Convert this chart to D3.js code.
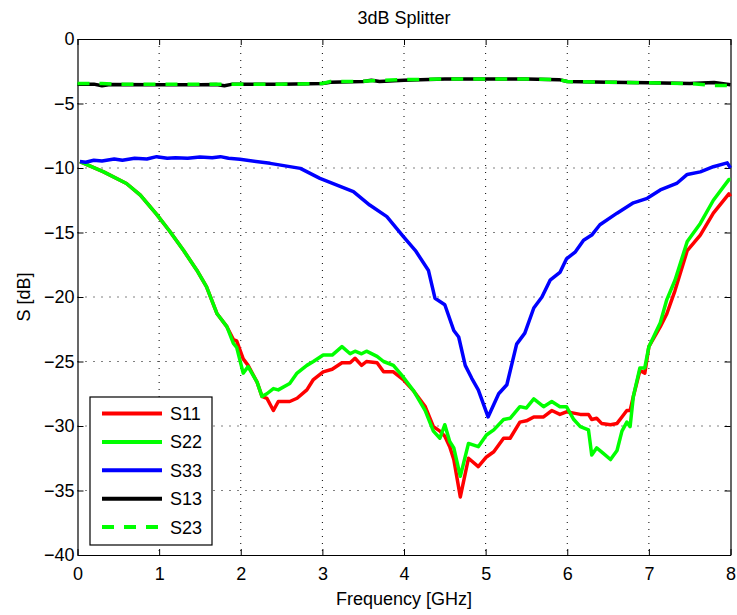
<!DOCTYPE html>
<html>
<head>
<meta charset="utf-8">
<script src="https://cdn.jsdelivr.net/npm/d3@7"></script>
<style>
  body { margin: 0; background: #fff; }
  svg { font-family: "Liberation Sans", Arial, Helvetica, sans-serif; }
</style>
</head>
<body>
<script>
// S-parameter traces (frequency in GHz, value in dB)
const freqS11 = [0.03, 0.32, 0.6, 0.77, 0.97, 1.13, 1.3, 1.46, 1.58, 1.71, 1.83, 1.91, 1.95, 2.03, 2.09, 2.2, 2.26, 2.32, 2.4, 2.46, 2.6, 2.69, 2.81, 2.89, 3.01, 3.12, 3.24, 3.34, 3.4, 3.48, 3.54, 3.67, 3.75, 3.87, 3.99, 4.12, 4.26, 4.36, 4.44, 4.5, 4.56, 4.61, 4.69, 4.79, 4.91, 5.01, 5.1, 5.22, 5.3, 5.42, 5.5, 5.59, 5.71, 5.81, 5.91, 5.99, 6.08, 6.16, 6.26, 6.3, 6.36, 6.42, 6.53, 6.61, 6.67, 6.73, 6.77, 6.81, 6.89, 6.95, 7.0, 7.14, 7.22, 7.32, 7.47, 7.63, 7.79, 7.98, 8.0];
const s11 = [-9.5, -10.3, -11.2, -12.1, -13.6, -14.9, -16.4, -17.9, -19.2, -21.3, -22.3, -23.3, -23.4, -24.8, -25.3, -26.6, -27.7, -27.85, -28.8, -28.1, -28.1, -27.85, -27.2, -26.4, -25.8, -25.6, -25.1, -25.1, -24.75, -25.3, -25.0, -25.1, -25.8, -25.8, -26.4, -27.3, -28.5, -30.05, -30.4, -30.8, -31.6, -32.6, -35.5, -32.5, -33.15, -32.4, -32.0, -30.95, -30.95, -29.7, -29.6, -29.3, -29.3, -28.8, -29.1, -28.9, -29.0, -29.1, -29.1, -29.5, -29.4, -29.8, -29.9, -29.8, -29.3, -28.8, -28.8, -27.7, -25.7, -25.9, -23.85, -22.3, -21.3, -19.5, -16.4, -15.2, -13.5, -12.0, -12.2];

const freqS22 = [0.03, 0.32, 0.6, 0.77, 0.97, 1.13, 1.3, 1.46, 1.58, 1.71, 1.83, 1.91, 1.95, 2.03, 2.09, 2.2, 2.26, 2.32, 2.4, 2.46, 2.6, 2.69, 2.81, 2.89, 3.01, 3.12, 3.24, 3.34, 3.4, 3.48, 3.54, 3.67, 3.75, 3.87, 3.99, 4.12, 4.26, 4.36, 4.44, 4.5, 4.56, 4.61, 4.69, 4.79, 4.91, 5.01, 5.1, 5.22, 5.3, 5.42, 5.5, 5.59, 5.71, 5.81, 5.91, 5.99, 6.08, 6.16, 6.26, 6.3, 6.36, 6.42, 6.53, 6.61, 6.67, 6.73, 6.77, 6.81, 6.89, 6.95, 7.0, 7.14, 7.22, 7.32, 7.47, 7.63, 7.79, 7.98, 8.0];
const s22 = [-9.5, -10.3, -11.2, -12.1, -13.6, -14.9, -16.4, -17.9, -19.2, -21.3, -22.3, -23.6, -23.9, -25.9, -25.4, -26.6, -27.7, -27.5, -27.1, -27.2, -26.7, -25.9, -25.3, -25.0, -24.5, -24.5, -23.85, -24.4, -24.2, -24.4, -24.2, -24.6, -25.0, -25.3, -26.2, -27.3, -28.8, -30.4, -30.95, -29.9, -31.2, -31.7, -33.9, -31.35, -31.6, -30.7, -30.3, -29.5, -29.4, -28.5, -28.6, -27.9, -28.5, -28.1, -28.5, -28.5, -29.5, -30.05, -30.3, -32.25, -31.7, -32.0, -32.6, -31.9, -30.4, -29.7, -30.05, -27.7, -25.5, -25.5, -23.85, -22.0, -20.2, -18.7, -15.7, -14.3, -12.5, -10.9, -10.9];

const freqS33 = [0.03, 0.1, 0.2, 0.3, 0.45, 0.55, 0.7, 0.85, 0.97, 1.1, 1.2, 1.35, 1.5, 1.65, 1.75, 1.85, 1.99, 2.36, 2.73, 2.97, 3.38, 3.58, 3.79, 3.99, 4.14, 4.3, 4.38, 4.5, 4.61, 4.67, 4.75, 4.83, 4.91, 5.03, 5.16, 5.26, 5.38, 5.48, 5.59, 5.69, 5.79, 5.91, 5.99, 6.1, 6.2, 6.3, 6.4, 6.61, 6.81, 6.98, 7.14, 7.34, 7.47, 7.63, 7.79, 7.96, 8.0];
const s33 = [-9.5, -9.55, -9.4, -9.45, -9.3, -9.4, -9.25, -9.3, -9.12, -9.25, -9.2, -9.25, -9.15, -9.2, -9.12, -9.25, -9.33, -9.64, -10.03, -10.8, -11.83, -12.87, -13.77, -15.3, -16.4, -17.95, -20.1, -20.6, -22.6, -23.1, -25.3, -26.3, -27.2, -29.3, -27.5, -26.8, -23.65, -22.8, -20.85, -20.0, -18.7, -18.1, -17.05, -16.5, -15.6, -15.2, -14.4, -13.5, -12.7, -12.35, -11.7, -11.2, -10.5, -10.3, -9.9, -9.6, -10.0];

const freqS13 = [0.0, 0.2, 0.3, 0.4, 1.0, 1.5, 1.7, 1.8, 1.9, 2.5, 3.0, 3.1, 3.5, 3.6, 3.7, 4.0, 4.5, 5.0, 5.5, 5.9, 6.0, 6.5, 7.0, 7.5, 7.8, 8.0];
const s13 = [-3.5, -3.5, -3.62, -3.52, -3.55, -3.55, -3.52, -3.62, -3.5, -3.5, -3.45, -3.35, -3.3, -3.2, -3.3, -3.2, -3.1, -3.1, -3.1, -3.15, -3.3, -3.35, -3.4, -3.45, -3.38, -3.55];

const freqS23 = [0.0, 0.3, 0.5, 1.0, 1.5, 2.0, 2.5, 3.0, 3.1, 3.5, 3.7, 4.0, 4.5, 5.0, 5.5, 5.9, 6.0, 6.5, 7.0, 7.5, 7.8, 8.0];
const s23 = [-3.45, -3.45, -3.5, -3.5, -3.5, -3.5, -3.5, -3.45, -3.3, -3.28, -3.2, -3.15, -3.1, -3.1, -3.1, -3.15, -3.3, -3.35, -3.4, -3.45, -3.6, -3.6];

const seriesNames = ['S11', 'S22', 'S33', 'S13', 'S23'];
const xTicks = [0, 1, 2, 3, 4, 5, 6, 7, 8];
const yTicks = [0, -5, -10, -15, -20, -25, -30, -35, -40];

const width = 737, height = 615;
const margin = { top: 39, right: 6.5, bottom: 60, left: 77.5 };
const font = '"Liberation Sans", Arial, sans-serif';

const svg = d3.select('body').append('svg')
    .attr('width', width)
    .attr('height', height);

const x = d3.scaleLinear().domain([0, 8]).range([margin.left, width - margin.right]);
const y = d3.scaleLinear().domain([-40, 0]).range([height - margin.bottom, margin.top]);

// dotted grid
const grid = svg.append('g').attr('class', 'grid');
grid.selectAll('line.vx')
    .data(xTicks.slice(1, -1))
    .enter().append('line')
    .attr('x1', d => x(d)).attr('x2', d => x(d))
    .attr('y1', y(0)).attr('y2', y(-40))
    .attr('stroke', '#000').attr('stroke-width', 1)
    .attr('stroke-dasharray', '1,6');
grid.selectAll('line.hy')
    .data(yTicks.slice(1, -1))
    .enter().append('line')
    .attr('x1', x(0)).attr('x2', x(8))
    .attr('y1', d => y(d)).attr('y2', d => y(d))
    .attr('stroke', '#000').attr('stroke-width', 1)
    .attr('stroke-dasharray', '1,7');

// axes with inward ticks, mirrored on top/right
const tickFmt = d3.format('d');
const bottomAxis = svg.append('g')
    .attr('transform', `translate(0,${y(-40)})`)
    .call(d3.axisBottom(x).tickValues(xTicks).tickSizeInner(-6).tickSizeOuter(0).tickPadding(12).tickFormat(tickFmt));
const leftAxis = svg.append('g')
    .attr('transform', `translate(${x(0)},0)`)
    .call(d3.axisLeft(y).tickValues(yTicks).tickSizeInner(-6).tickSizeOuter(0).tickPadding(3).tickFormat(tickFmt));
svg.append('g')
    .attr('transform', `translate(0,${y(0)})`)
    .call(d3.axisTop(x).tickValues(xTicks).tickSizeInner(-6).tickSizeOuter(0).tickFormat(''));
svg.append('g')
    .attr('transform', `translate(${x(8)},0)`)
    .call(d3.axisRight(y).tickValues(yTicks).tickSizeInner(-6).tickSizeOuter(0).tickFormat(''));

svg.selectAll('.domain').attr('stroke', '#000').attr('stroke-width', 1.2);
svg.selectAll('.tick line').attr('stroke', '#000');
[bottomAxis, leftAxis].forEach(ax => ax.selectAll('text')
    .attr('font-size', 18).attr('fill', '#000').attr('font-family', font));

// traces
const line = d3.line().x(d => x(d[0])).y(d => y(d[1]));
const zipped = (fs, vs) => fs.map((f, i) => [f, vs[i]]);

const traces = [
    { name: 'S11', data: zipped(freqS11, s11), color: '#ff0000', dash: null },
    { name: 'S22', data: zipped(freqS22, s22), color: '#00ff00', dash: null },
    { name: 'S33', data: zipped(freqS33, s33), color: '#0000ff', dash: null },
    { name: 'S13', data: zipped(freqS13, s13), color: '#000000', dash: null },
    { name: 'S23', data: zipped(freqS23, s23), color: '#00ff00', dash: '12,10' }
];

svg.append('g').selectAll('path')
    .data(traces)
    .enter().append('path')
    .attr('d', d => line(d.data))
    .attr('fill', 'none')
    .attr('stroke', d => d.color)
    .attr('stroke-width', 3.5)
    .attr('stroke-linejoin', 'round')
    .attr('stroke-dasharray', d => d.dash);

// title and axis labels
svg.append('text')
    .attr('x', (x(0) + x(8)) / 2).attr('y', 24)
    .attr('text-anchor', 'middle').attr('font-size', 18)
    .text('3dB Splitter');
svg.append('text')
    .attr('x', (x(0) + x(8)) / 2).attr('y', 605)
    .attr('text-anchor', 'middle').attr('font-size', 18)
    .text('Frequency [GHz]');
svg.append('text')
    .attr('transform', `translate(30,${(y(0) + y(-40)) / 2}) rotate(-90)`)
    .attr('text-anchor', 'middle').attr('font-size', 18)
    .text('S [dB]');

// legend
const legend = svg.append('g').attr('transform', 'translate(90,397)');
legend.append('rect')
    .attr('width', 122).attr('height', 148)
    .attr('fill', '#fff').attr('stroke', '#000').attr('stroke-width', 1.2);
const rowY = d3.scalePoint().domain(seriesNames).range([16.5, 130]);
const rows = legend.selectAll('g.row')
    .data(traces)
    .enter().append('g')
    .attr('transform', d => `translate(0,${rowY(d.name)})`);
rows.append('line')
    .attr('x1', 12).attr('x2', 72)
    .attr('stroke', d => d.color).attr('stroke-width', 4)
    .attr('stroke-dasharray', d => d.dash);
rows.append('text')
    .attr('x', 80).attr('y', 6.5)
    .attr('font-size', 18)
    .text(d => d.name);
</script>
</body>
</html>
